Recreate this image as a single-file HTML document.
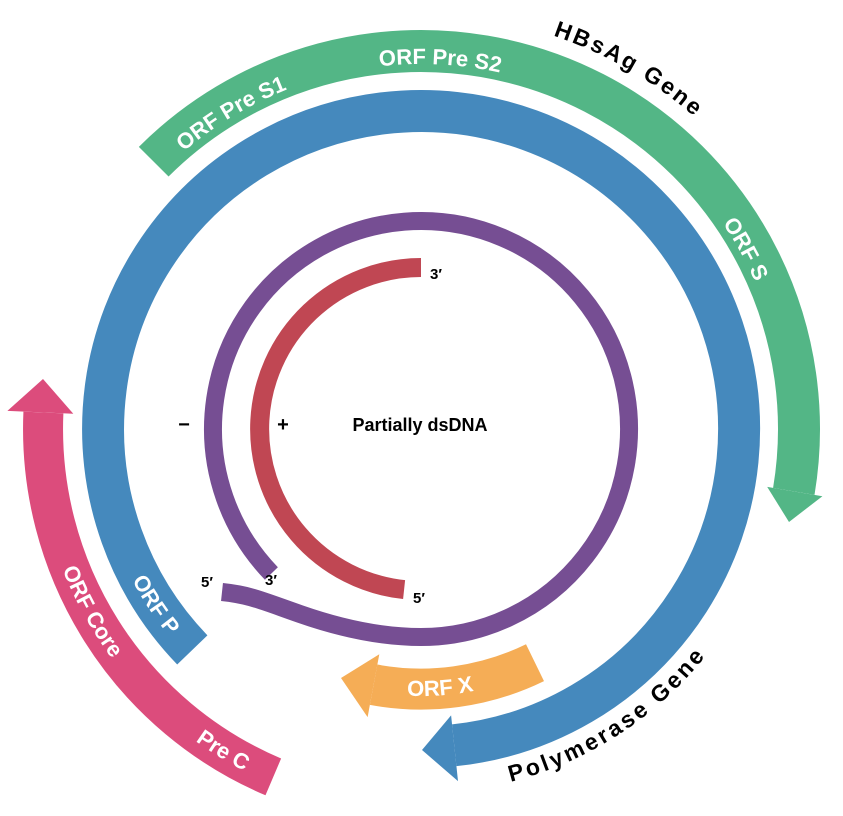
<!DOCTYPE html>
<html><head><meta charset="utf-8"><style>
html,body{margin:0;padding:0;background:#fff;}
svg{display:block;}
text{font-family:"Liberation Sans",sans-serif;font-weight:bold;}
.w{fill:#fff;font-size:22px;}
.b{fill:#000;font-size:23px;letter-spacing:2.5px;}
.s{fill:#000;font-size:15px;}
</style></head><body>
<svg width="843" height="816" viewBox="0 0 843 816" xmlns="http://www.w3.org/2000/svg">
<defs>
<path id="pS1" d="M75.9,310.2 A365,365 0 0 1 478.1,68.5" fill="none"/>
<path id="pS2" d="M201.3,137.5 A365,365 0 0 1 669.9,162.0" fill="none"/>
<path id="pS" d="M551.8,88.2 A365,365 0 0 1 779.3,498.6" fill="none"/>
<path id="pHB" d="M349.0,20.3 A415,415 0 0 1 811.0,287.1" fill="none"/>
<path id="pP" d="M97.1,392.1 A326,326 0 0 0 328.4,741.6" fill="none"/>
<path id="pCore" d="M59.2,297.3 A385,385 0 0 0 354.2,808.1" fill="none"/>
<path id="pX" d="M264.8,645.6 A267,267 0 0 0 607.2,620.4" fill="none"/>
<path id="pPol" d="M376.6,790.3 A364,364 0 0 0 769.1,535.4" fill="none"/>
</defs>
<path d="M153.7,161.7 A378,378 0 0 1 793.8,491.4" fill="none" stroke="#53b686" stroke-width="42"/>
<polygon points="767.2,486.9 822.4,496.2 789,522" fill="#53b686"/>
<path d="M192.3,649.9 A318,318 0 1 1 454.2,745.3" fill="none" stroke="#4589bd" stroke-width="42"/>
<polygon points="451.1,715.4 458.0,781.1 422,750" fill="#4589bd"/>
<path d="M273.3,776.9 A378,378 0 0 1 43.4,412.5" fill="none" stroke="#dc4c7c" stroke-width="40"/>
<polygon points="73.3,413.8 7.4,410.9 43,379" fill="#dc4c7c"/>
<path d="M535.0,662.7 A260,260 0 0 1 373.6,684.7" fill="none" stroke="#f5ad56" stroke-width="41"/>
<polygon points="379.3,654.2 367.6,717.1 341,678" fill="#f5ad56"/>
<path d="M271.4,573.5 A208,208 0 1 1 421,637 C380,637 340,628 300,614 S250,595 222,592" fill="none" stroke="#764e93" stroke-width="18"/>
<path d="M404.1,589.6 A161.5,161.5 0 0 1 421,267.5" fill="none" stroke="#c04753" stroke-width="19"/>

<text class="w"><textPath href="#pS1" startOffset="50%" text-anchor="middle">ORF Pre S1</textPath></text>
<text class="w"><textPath href="#pS2" startOffset="50%" text-anchor="middle">ORF Pre S2</textPath></text>
<text class="w"><textPath href="#pS" startOffset="50%" text-anchor="middle">ORF S</textPath></text>
<text class="b"><textPath href="#pHB" startOffset="50%" text-anchor="middle">HBsAg Gene</textPath></text>
<text class="w"><textPath href="#pP" startOffset="50%" text-anchor="middle">ORF P</textPath></text>
<text class="w"><textPath href="#pCore" startOffset="49%" text-anchor="middle">ORF Core</textPath></text>
<text class="w"><textPath href="#pCore" startOffset="78.4%" text-anchor="middle">Pre C</textPath></text>
<text class="w"><textPath href="#pX" startOffset="50%" text-anchor="middle">ORF X</textPath></text>
<text class="b" style="letter-spacing:3px"><textPath href="#pPol" startOffset="50%" text-anchor="middle">Polymerase Gene</textPath></text>

<text x="420" y="431" font-size="18" text-anchor="middle" fill="#000">Partially dsDNA</text>
<text x="184" y="431" font-size="20" text-anchor="middle" fill="#000">−</text>
<text x="283" y="431" font-size="20" text-anchor="middle" fill="#000">+</text>
<text class="s" x="430" y="279">3′</text>
<text class="s" x="413" y="603">5′</text>
<text class="s" x="201" y="587">5′</text>
<text class="s" x="265" y="585">3′</text>
</svg>
</body></html>
